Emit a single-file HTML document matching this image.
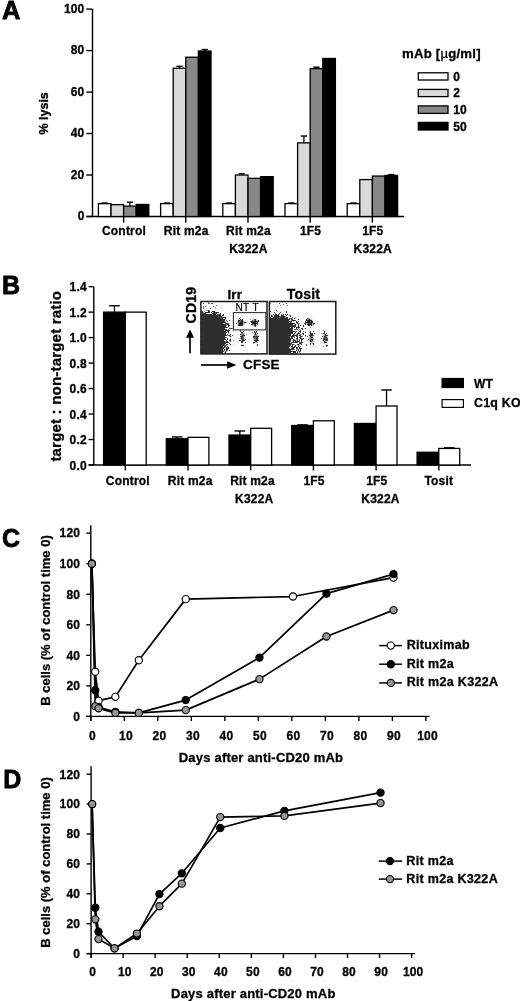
<!DOCTYPE html>
<html><head><meta charset="utf-8"><style>
html,body{margin:0;padding:0;background:#fff;}
svg{display:block;}
text{stroke:#000;stroke-width:0.3px;letter-spacing:0.2px;}
#w{filter:grayscale(1) blur(0.35px);}
</style></head><body>
<div id="w"><svg width="520" height="1001" viewBox="0 0 520 1001" font-family="'Liberation Sans', sans-serif" font-weight="bold">
<text x="1.90" y="18.90" font-size="25.5" text-anchor="start" style="stroke-width:0.8px">A</text>
<line x1="92.50" y1="9.10" x2="92.50" y2="216.50" stroke="#000" stroke-width="1.4"/>
<line x1="86.30" y1="216.50" x2="92.50" y2="216.50" stroke="#000" stroke-width="1.4"/>
<text x="84.50" y="220.20" font-size="12" text-anchor="end" >0</text>
<line x1="86.30" y1="175.02" x2="92.50" y2="175.02" stroke="#000" stroke-width="1.4"/>
<text x="84.50" y="178.72" font-size="12" text-anchor="end" >20</text>
<line x1="86.30" y1="133.54" x2="92.50" y2="133.54" stroke="#000" stroke-width="1.4"/>
<text x="84.50" y="137.24" font-size="12" text-anchor="end" >40</text>
<line x1="86.30" y1="92.06" x2="92.50" y2="92.06" stroke="#000" stroke-width="1.4"/>
<text x="84.50" y="95.76" font-size="12" text-anchor="end" >60</text>
<line x1="86.30" y1="50.58" x2="92.50" y2="50.58" stroke="#000" stroke-width="1.4"/>
<text x="84.50" y="54.28" font-size="12" text-anchor="end" >80</text>
<line x1="86.30" y1="9.10" x2="92.50" y2="9.10" stroke="#000" stroke-width="1.4"/>
<text x="84.50" y="12.80" font-size="12" text-anchor="end" >100</text>
<line x1="86.30" y1="216.50" x2="404.20" y2="216.50" stroke="#000" stroke-width="1.4"/>
<line x1="104.70" y1="203.02" x2="104.70" y2="203.64" stroke="#000" stroke-width="1.3"/>
<line x1="101.60" y1="203.02" x2="107.80" y2="203.02" stroke="#000" stroke-width="1.4"/>
<rect x="98.40" y="203.64" width="12.60" height="12.86" fill="#ffffff" stroke="#000" stroke-width="1.3"/>
<rect x="111.00" y="204.68" width="12.60" height="11.82" fill="#d9d9d9" stroke="#000" stroke-width="1.3"/>
<line x1="129.90" y1="202.19" x2="129.90" y2="206.13" stroke="#000" stroke-width="1.3"/>
<line x1="126.80" y1="202.19" x2="133.00" y2="202.19" stroke="#000" stroke-width="1.4"/>
<rect x="123.60" y="206.13" width="12.60" height="10.37" fill="#888888" stroke="#000" stroke-width="1.3"/>
<rect x="136.20" y="204.47" width="12.60" height="12.03" fill="#000000" stroke="#000" stroke-width="1.3"/>
<line x1="123.60" y1="216.50" x2="123.60" y2="222.70" stroke="#000" stroke-width="1.4"/>
<text x="124.00" y="234.80" font-size="12" text-anchor="middle" >Control</text>
<line x1="166.90" y1="203.02" x2="166.90" y2="203.64" stroke="#000" stroke-width="1.3"/>
<line x1="163.80" y1="203.02" x2="170.00" y2="203.02" stroke="#000" stroke-width="1.4"/>
<rect x="160.60" y="203.64" width="12.60" height="12.86" fill="#ffffff" stroke="#000" stroke-width="1.3"/>
<line x1="179.50" y1="66.34" x2="179.50" y2="68.21" stroke="#000" stroke-width="1.3"/>
<line x1="176.40" y1="66.34" x2="182.60" y2="66.34" stroke="#000" stroke-width="1.4"/>
<rect x="173.20" y="68.21" width="12.60" height="148.29" fill="#d9d9d9" stroke="#000" stroke-width="1.3"/>
<rect x="185.80" y="57.22" width="12.60" height="159.28" fill="#888888" stroke="#000" stroke-width="1.3"/>
<line x1="204.70" y1="49.54" x2="204.70" y2="50.99" stroke="#000" stroke-width="1.3"/>
<line x1="201.60" y1="49.54" x2="207.80" y2="49.54" stroke="#000" stroke-width="1.4"/>
<rect x="198.40" y="50.99" width="12.60" height="165.51" fill="#000000" stroke="#000" stroke-width="1.3"/>
<line x1="185.80" y1="216.50" x2="185.80" y2="222.70" stroke="#000" stroke-width="1.4"/>
<text x="186.20" y="234.80" font-size="12" text-anchor="middle" >Rit m2a</text>
<line x1="229.10" y1="203.02" x2="229.10" y2="203.64" stroke="#000" stroke-width="1.3"/>
<line x1="226.00" y1="203.02" x2="232.20" y2="203.02" stroke="#000" stroke-width="1.4"/>
<rect x="222.80" y="203.64" width="12.60" height="12.86" fill="#ffffff" stroke="#000" stroke-width="1.3"/>
<line x1="241.70" y1="173.78" x2="241.70" y2="175.02" stroke="#000" stroke-width="1.3"/>
<line x1="238.60" y1="173.78" x2="244.80" y2="173.78" stroke="#000" stroke-width="1.4"/>
<rect x="235.40" y="175.02" width="12.60" height="41.48" fill="#d9d9d9" stroke="#000" stroke-width="1.3"/>
<rect x="248.00" y="178.34" width="12.60" height="38.16" fill="#888888" stroke="#000" stroke-width="1.3"/>
<rect x="260.60" y="176.68" width="12.60" height="39.82" fill="#000000" stroke="#000" stroke-width="1.3"/>
<line x1="248.00" y1="216.50" x2="248.00" y2="222.70" stroke="#000" stroke-width="1.4"/>
<text x="248.40" y="234.80" font-size="12" text-anchor="middle" >Rit m2a</text>
<text x="248.40" y="252.80" font-size="12" text-anchor="middle" >K322A</text>
<line x1="291.30" y1="203.02" x2="291.30" y2="203.64" stroke="#000" stroke-width="1.3"/>
<line x1="288.20" y1="203.02" x2="294.40" y2="203.02" stroke="#000" stroke-width="1.4"/>
<rect x="285.00" y="203.64" width="12.60" height="12.86" fill="#ffffff" stroke="#000" stroke-width="1.3"/>
<line x1="303.90" y1="136.03" x2="303.90" y2="142.87" stroke="#000" stroke-width="1.3"/>
<line x1="300.80" y1="136.03" x2="307.00" y2="136.03" stroke="#000" stroke-width="1.4"/>
<rect x="297.60" y="142.87" width="12.60" height="73.63" fill="#d9d9d9" stroke="#000" stroke-width="1.3"/>
<line x1="316.50" y1="67.17" x2="316.50" y2="68.62" stroke="#000" stroke-width="1.3"/>
<line x1="313.40" y1="67.17" x2="319.60" y2="67.17" stroke="#000" stroke-width="1.4"/>
<rect x="310.20" y="68.62" width="12.60" height="147.88" fill="#888888" stroke="#000" stroke-width="1.3"/>
<rect x="322.80" y="58.46" width="12.60" height="158.04" fill="#000000" stroke="#000" stroke-width="1.3"/>
<line x1="310.20" y1="216.50" x2="310.20" y2="222.70" stroke="#000" stroke-width="1.4"/>
<text x="310.60" y="234.80" font-size="12" text-anchor="middle" >1F5</text>
<line x1="353.50" y1="203.02" x2="353.50" y2="203.64" stroke="#000" stroke-width="1.3"/>
<line x1="350.40" y1="203.02" x2="356.60" y2="203.02" stroke="#000" stroke-width="1.4"/>
<rect x="347.20" y="203.64" width="12.60" height="12.86" fill="#ffffff" stroke="#000" stroke-width="1.3"/>
<rect x="359.80" y="179.58" width="12.60" height="36.92" fill="#d9d9d9" stroke="#000" stroke-width="1.3"/>
<rect x="372.40" y="176.06" width="12.60" height="40.44" fill="#888888" stroke="#000" stroke-width="1.3"/>
<line x1="391.30" y1="174.61" x2="391.30" y2="175.43" stroke="#000" stroke-width="1.3"/>
<line x1="388.20" y1="174.61" x2="394.40" y2="174.61" stroke="#000" stroke-width="1.4"/>
<rect x="385.00" y="175.43" width="12.60" height="41.07" fill="#000000" stroke="#000" stroke-width="1.3"/>
<line x1="372.40" y1="216.50" x2="372.40" y2="222.70" stroke="#000" stroke-width="1.4"/>
<text x="372.80" y="234.80" font-size="12" text-anchor="middle" >1F5</text>
<text x="372.80" y="252.80" font-size="12" text-anchor="middle" >K322A</text>
<text x="0.00" y="0.00" font-size="12.5" text-anchor="middle" style="letter-spacing:0" transform="translate(47.7,113.4) rotate(-90)">% lysis</text>
<text x="441.40" y="58.30" font-size="13.2" text-anchor="middle" >mAb [<tspan font-weight="normal">µ</tspan>g/ml]</text>
<rect x="418.30" y="72.80" width="29.70" height="7.20" fill="#ffffff" stroke="#000" stroke-width="1.3"/>
<text x="453.20" y="80.70" font-size="12" text-anchor="start" >0</text>
<rect x="418.30" y="89.40" width="29.70" height="7.20" fill="#d9d9d9" stroke="#000" stroke-width="1.3"/>
<text x="453.20" y="97.30" font-size="12" text-anchor="start" >2</text>
<rect x="418.30" y="105.90" width="29.70" height="7.50" fill="#888888" stroke="#000" stroke-width="1.3"/>
<text x="453.20" y="113.95" font-size="12" text-anchor="start" >10</text>
<rect x="418.30" y="122.40" width="29.70" height="7.60" fill="#000000" stroke="#000" stroke-width="1.3"/>
<text x="453.20" y="130.50" font-size="12" text-anchor="start" >50</text>
<text x="2.00" y="294.30" font-size="25" text-anchor="start" style="stroke-width:0.8px">B</text>
<line x1="93.80" y1="286.64" x2="93.80" y2="465.00" stroke="#000" stroke-width="1.4"/>
<line x1="88.60" y1="465.00" x2="93.80" y2="465.00" stroke="#000" stroke-width="1.4"/>
<text x="86.90" y="469.50" font-size="12" text-anchor="end" >0.0</text>
<line x1="88.60" y1="439.52" x2="93.80" y2="439.52" stroke="#000" stroke-width="1.4"/>
<text x="86.90" y="444.02" font-size="12" text-anchor="end" >0.2</text>
<line x1="88.60" y1="414.04" x2="93.80" y2="414.04" stroke="#000" stroke-width="1.4"/>
<text x="86.90" y="418.54" font-size="12" text-anchor="end" >0.4</text>
<line x1="88.60" y1="388.56" x2="93.80" y2="388.56" stroke="#000" stroke-width="1.4"/>
<text x="86.90" y="393.06" font-size="12" text-anchor="end" >0.6</text>
<line x1="88.60" y1="363.08" x2="93.80" y2="363.08" stroke="#000" stroke-width="1.4"/>
<text x="86.90" y="367.58" font-size="12" text-anchor="end" >0.8</text>
<line x1="88.60" y1="337.60" x2="93.80" y2="337.60" stroke="#000" stroke-width="1.4"/>
<text x="86.90" y="342.10" font-size="12" text-anchor="end" >1.0</text>
<line x1="88.60" y1="312.12" x2="93.80" y2="312.12" stroke="#000" stroke-width="1.4"/>
<text x="86.90" y="316.62" font-size="12" text-anchor="end" >1.2</text>
<line x1="88.60" y1="286.64" x2="93.80" y2="286.64" stroke="#000" stroke-width="1.4"/>
<text x="86.90" y="291.14" font-size="12" text-anchor="end" >1.4</text>
<line x1="88.60" y1="465.00" x2="471.00" y2="465.00" stroke="#000" stroke-width="1.4"/>
<line x1="114.45" y1="305.75" x2="114.45" y2="312.12" stroke="#000" stroke-width="1.3"/>
<line x1="109.15" y1="305.75" x2="119.75" y2="305.75" stroke="#000" stroke-width="1.4"/>
<rect x="103.60" y="312.12" width="21.70" height="152.88" fill="#000" stroke="#000" stroke-width="1.3"/>
<rect x="125.30" y="312.12" width="20.90" height="152.88" fill="#fff" stroke="#000" stroke-width="1.3"/>
<line x1="125.30" y1="465.00" x2="125.30" y2="470.50" stroke="#000" stroke-width="1.4"/>
<text x="127.80" y="485.00" font-size="12" text-anchor="middle" >Control</text>
<line x1="177.15" y1="436.97" x2="177.15" y2="438.76" stroke="#000" stroke-width="1.3"/>
<line x1="171.85" y1="436.97" x2="182.45" y2="436.97" stroke="#000" stroke-width="1.4"/>
<rect x="166.30" y="438.76" width="21.70" height="26.24" fill="#000" stroke="#000" stroke-width="1.3"/>
<rect x="188.00" y="437.35" width="20.90" height="27.65" fill="#fff" stroke="#000" stroke-width="1.3"/>
<line x1="188.00" y1="465.00" x2="188.00" y2="470.50" stroke="#000" stroke-width="1.4"/>
<text x="190.20" y="485.00" font-size="12" text-anchor="middle" >Rit m2a</text>
<line x1="239.85" y1="430.98" x2="239.85" y2="435.06" stroke="#000" stroke-width="1.3"/>
<line x1="234.55" y1="430.98" x2="245.15" y2="430.98" stroke="#000" stroke-width="1.4"/>
<rect x="229.00" y="435.06" width="21.70" height="29.94" fill="#000" stroke="#000" stroke-width="1.3"/>
<rect x="250.70" y="428.31" width="20.90" height="36.69" fill="#fff" stroke="#000" stroke-width="1.3"/>
<line x1="250.70" y1="465.00" x2="250.70" y2="470.50" stroke="#000" stroke-width="1.4"/>
<text x="252.50" y="485.00" font-size="12" text-anchor="middle" >Rit m2a</text>
<text x="254.30" y="502.60" font-size="12" text-anchor="middle" >K322A</text>
<line x1="302.55" y1="424.87" x2="302.55" y2="425.51" stroke="#000" stroke-width="1.3"/>
<line x1="297.25" y1="424.87" x2="307.85" y2="424.87" stroke="#000" stroke-width="1.4"/>
<rect x="291.70" y="425.51" width="21.70" height="39.49" fill="#000" stroke="#000" stroke-width="1.3"/>
<rect x="313.40" y="420.79" width="20.90" height="44.21" fill="#fff" stroke="#000" stroke-width="1.3"/>
<line x1="313.40" y1="465.00" x2="313.40" y2="470.50" stroke="#000" stroke-width="1.4"/>
<text x="314.10" y="485.00" font-size="12" text-anchor="middle" >1F5</text>
<rect x="354.40" y="423.47" width="21.70" height="41.53" fill="#000" stroke="#000" stroke-width="1.3"/>
<line x1="386.55" y1="389.96" x2="386.55" y2="406.01" stroke="#000" stroke-width="1.3"/>
<line x1="381.25" y1="389.96" x2="391.85" y2="389.96" stroke="#000" stroke-width="1.4"/>
<rect x="376.10" y="406.01" width="20.90" height="58.99" fill="#fff" stroke="#000" stroke-width="1.3"/>
<line x1="376.10" y1="465.00" x2="376.10" y2="470.50" stroke="#000" stroke-width="1.4"/>
<text x="376.80" y="485.00" font-size="12" text-anchor="middle" >1F5</text>
<text x="380.50" y="502.60" font-size="12" text-anchor="middle" >K322A</text>
<rect x="417.10" y="452.26" width="21.70" height="12.74" fill="#000" stroke="#000" stroke-width="1.3"/>
<line x1="449.25" y1="447.80" x2="449.25" y2="448.44" stroke="#000" stroke-width="1.3"/>
<line x1="443.95" y1="447.80" x2="454.55" y2="447.80" stroke="#000" stroke-width="1.4"/>
<rect x="438.80" y="448.44" width="20.90" height="16.56" fill="#fff" stroke="#000" stroke-width="1.3"/>
<line x1="438.80" y1="465.00" x2="438.80" y2="470.50" stroke="#000" stroke-width="1.4"/>
<text x="438.80" y="485.00" font-size="12" text-anchor="middle" >Tosit</text>
<text x="0.00" y="0.00" font-size="15" text-anchor="middle" transform="translate(61,376.2) rotate(-90)">target : non-target ratio</text>
<rect x="442.10" y="378.50" width="21.30" height="9.00" fill="#000" stroke="#000" stroke-width="1.2"/>
<rect x="442.10" y="399.60" width="21.30" height="7.80" fill="#fff" stroke="#000" stroke-width="1.2"/>
<text x="474.10" y="387.50" font-size="12" text-anchor="start" >WT</text>
<text x="474.10" y="407.40" font-size="12.4" text-anchor="start" >C1q KO</text>
<defs>
<clipPath id="cIrr"><rect x="201.4" y="301.8" width="65.2" height="51.6"/></clipPath>
<clipPath id="cTos"><rect x="269.9" y="301.8" width="65.4" height="52"/></clipPath>
<filter id="dith" x="195" y="295" width="150" height="65" filterUnits="userSpaceOnUse" color-interpolation-filters="sRGB">
  <feGaussianBlur in="SourceAlpha" stdDeviation="1.1" result="b"/>
  <feTurbulence type="fractalNoise" baseFrequency="0.6" numOctaves="2" seed="9" result="n"/>
  <feColorMatrix in="n" type="matrix" values="0 0 0 0 0  0 0 0 0 0  0 0 0 0 0  2.56 0 0 0 -0.78" result="na"/>
  <feComposite in="b" in2="na" operator="arithmetic" k1="0" k2="1" k3="-1" k4="-0.08" result="d"/>
  <feComponentTransfer in="d" result="t"><feFuncA type="linear" slope="7" intercept="0"/></feComponentTransfer>
  <feFlood flood-color="#2e2e2e"/>
  <feComposite in2="t" operator="in"/>
  <feGaussianBlur stdDeviation="0.72"/>
</filter>
<filter id="bl6" x="-50%" y="-50%" width="200%" height="200%"><feGaussianBlur stdDeviation="0.9"/></filter>
<filter id="bl5" x="-10%" y="-10%" width="120%" height="120%"><feGaussianBlur stdDeviation="0.7"/></filter>
</defs>
<g clip-path="url(#cIrr)"><g filter="url(#dith)">
<path d="M199,300 H269 V356 H199 Z M233,300 V312 H267 V300 Z" fill-rule="evenodd" fill="#000" fill-opacity="0.05"/>
<path d="M199,300 L222,300 L222,314 L199,314 Z" fill="#000" fill-opacity="0.14"/>
<path d="M199,355 L199,311 Q214,309 223,313 Q233,320 234,331 Q234,346 230,355 Z" fill="#000" fill-opacity="0.22"/>
<path d="M199,355 L199,311.5 Q213,310 222,313.5 Q230,320 230.5,331 Q230.5,345 228,355 Z" fill="#000" fill-opacity="0.5"/>
<path d="M199,355 L199,313.4 Q207,312.4 214,312.6 Q220,313 223.3,317 Q226.4,322 226.6,330 Q226.4,341 224.4,348 L223.4,355 Z" fill="#000"/>
<ellipse cx="241" cy="322.4" rx="4.0" ry="3.7" fill="#000" fill-opacity="0.95"/>
<ellipse cx="254.6" cy="322.4" rx="4.0" ry="3.7" fill="#000" fill-opacity="0.95"/>
<ellipse cx="242.6" cy="337.5" rx="3.0" ry="8" fill="#000" fill-opacity="0.7"/>
<ellipse cx="255.8" cy="337.5" rx="3.0" ry="8" fill="#000" fill-opacity="0.7"/>
</g></g>
<g clip-path="url(#cTos)"><g filter="url(#dith)">
<rect x="267" y="300" width="70" height="56" fill="#000" fill-opacity="0.06"/>
<path d="M267,300 L289,300 L289,316 L267,316 Z" fill="#000" fill-opacity="0.14"/>
<path d="M267,355 L267,313 Q284,311 293,315 Q307,322 308,333 Q308,347 304,355 Z" fill="#000" fill-opacity="0.22"/>
<path d="M267,355 L267,314.5 Q282,313 291,316.5 Q302,322 303,333 Q303,346 299,355 Z" fill="#000" fill-opacity="0.55"/>
<path d="M267,355 L267,316.4 Q276,315.6 283,315.8 Q288.5,316.2 290.5,320 Q292,324 291.8,331 L291.2,345 L290,355 Z" fill="#000"/>
<ellipse cx="309.6" cy="322.4" rx="4.2" ry="3.9" fill="#000" fill-opacity="0.95"/>
<ellipse cx="311.4" cy="338.5" rx="3.0" ry="8" fill="#000" fill-opacity="0.7"/>
<ellipse cx="325.2" cy="338.5" rx="3.0" ry="8" fill="#000" fill-opacity="0.7"/>
</g></g>
<g fill="#2e2e2e" filter="url(#bl5)">
<path d="M199,355 L199,315.2 Q207,314.2 213.5,314.4 Q218.5,314.8 221.3,318.2 Q224.3,323 224.5,330 Q224.3,341 222.6,348 L221.6,355 Z" clip-path="url(#cIrr)"/>
<path d="M267,355 L267,318.2 Q276,317.4 282.5,317.6 Q287,318 288.6,321.2 Q290,325 289.8,331 L289.3,345 L288.2,355 Z" clip-path="url(#cTos)"/>
</g>
<g filter="url(#bl6)">
<ellipse cx="241" cy="322.4" rx="2.6" ry="2.5" fill="#1e1e1e"/>
<ellipse cx="254.6" cy="322.4" rx="2.6" ry="2.5" fill="#1e1e1e"/>
<ellipse cx="309.6" cy="322.4" rx="2.6" ry="2.5" fill="#1e1e1e"/>
<ellipse cx="242.6" cy="337.5" rx="1.4" ry="4.6" fill="#3a3a3a"/>
<ellipse cx="255.8" cy="337.5" rx="1.4" ry="4.6" fill="#3a3a3a"/>
<ellipse cx="311.4" cy="338.5" rx="1.4" ry="4.6" fill="#3a3a3a"/>
<ellipse cx="325.2" cy="338.5" rx="1.4" ry="4.6" fill="#3a3a3a"/>
</g>
<rect x="200.9" y="301.5" width="66.1" height="52.4" fill="none" stroke="#1a1a1a" stroke-width="1.5"/>
<rect x="269.4" y="301.5" width="66.4" height="52.6" fill="none" stroke="#1a1a1a" stroke-width="1.5"/>
<rect x="233.4" y="312.6" width="32.5" height="17.3" fill="none" stroke="#333" stroke-width="1.1"/>
<text x="227.4" y="298.6" font-size="13.5">Irr</text>
<text x="286.8" y="298.5" font-size="14">Tosit</text>
<text x="235.4" y="310.9" font-size="10" font-weight="normal" style="stroke-width:0.2px;letter-spacing:0.45px">NT T</text>
<text x="0" y="0" font-size="14" text-anchor="middle" transform="translate(195.6,305.1) rotate(-90)">CD19</text>
<text x="243" y="369" font-size="13.5">CFSE</text>
<line x1="190" y1="336" x2="190" y2="353.3" stroke="#000" stroke-width="1.7"/>
<path d="M190,329.6 L194,337.7 L186,337.7 Z" fill="#000"/>
<line x1="201.1" y1="365" x2="228" y2="365" stroke="#000" stroke-width="1.7"/>
<path d="M236.4,365 L227.1,361.2 L227.1,368.7 Z" fill="#000"/>
<text x="1.90" y="546.70" font-size="25" text-anchor="start" style="stroke-width:0.8px">C</text>
<line x1="90.80" y1="525.20" x2="90.80" y2="720.80" stroke="#000" stroke-width="1.4"/>
<line x1="86.30" y1="716.40" x2="90.80" y2="716.40" stroke="#000" stroke-width="1.4"/>
<text x="80.20" y="720.70" font-size="12" text-anchor="end" >0</text>
<line x1="86.30" y1="685.86" x2="90.80" y2="685.86" stroke="#000" stroke-width="1.4"/>
<text x="80.20" y="690.16" font-size="12" text-anchor="end" >20</text>
<line x1="86.30" y1="655.32" x2="90.80" y2="655.32" stroke="#000" stroke-width="1.4"/>
<text x="80.20" y="659.62" font-size="12" text-anchor="end" >40</text>
<line x1="86.30" y1="624.78" x2="90.80" y2="624.78" stroke="#000" stroke-width="1.4"/>
<text x="80.20" y="629.08" font-size="12" text-anchor="end" >60</text>
<line x1="86.30" y1="594.24" x2="90.80" y2="594.24" stroke="#000" stroke-width="1.4"/>
<text x="80.20" y="598.54" font-size="12" text-anchor="end" >80</text>
<line x1="86.30" y1="563.70" x2="90.80" y2="563.70" stroke="#000" stroke-width="1.4"/>
<text x="80.20" y="568.00" font-size="12" text-anchor="end" >100</text>
<line x1="86.30" y1="533.16" x2="90.80" y2="533.16" stroke="#000" stroke-width="1.4"/>
<text x="80.20" y="537.46" font-size="12" text-anchor="end" >120</text>
<line x1="86.30" y1="716.40" x2="429.60" y2="716.40" stroke="#000" stroke-width="1.4"/>
<line x1="90.80" y1="716.40" x2="90.80" y2="721.00" stroke="#000" stroke-width="1.4"/>
<text x="92.40" y="740.20" font-size="12" text-anchor="middle" >0</text>
<line x1="124.31" y1="716.40" x2="124.31" y2="721.00" stroke="#000" stroke-width="1.4"/>
<text x="125.91" y="740.20" font-size="12" text-anchor="middle" >10</text>
<line x1="157.82" y1="716.40" x2="157.82" y2="721.00" stroke="#000" stroke-width="1.4"/>
<text x="159.42" y="740.20" font-size="12" text-anchor="middle" >20</text>
<line x1="191.33" y1="716.40" x2="191.33" y2="721.00" stroke="#000" stroke-width="1.4"/>
<text x="192.93" y="740.20" font-size="12" text-anchor="middle" >30</text>
<line x1="224.84" y1="716.40" x2="224.84" y2="721.00" stroke="#000" stroke-width="1.4"/>
<text x="226.44" y="740.20" font-size="12" text-anchor="middle" >40</text>
<line x1="258.35" y1="716.40" x2="258.35" y2="721.00" stroke="#000" stroke-width="1.4"/>
<text x="259.95" y="740.20" font-size="12" text-anchor="middle" >50</text>
<line x1="291.86" y1="716.40" x2="291.86" y2="721.00" stroke="#000" stroke-width="1.4"/>
<text x="293.46" y="740.20" font-size="12" text-anchor="middle" >60</text>
<line x1="325.37" y1="716.40" x2="325.37" y2="721.00" stroke="#000" stroke-width="1.4"/>
<text x="326.97" y="740.20" font-size="12" text-anchor="middle" >70</text>
<line x1="358.88" y1="716.40" x2="358.88" y2="721.00" stroke="#000" stroke-width="1.4"/>
<text x="360.48" y="740.20" font-size="12" text-anchor="middle" >80</text>
<line x1="392.39" y1="716.40" x2="392.39" y2="721.00" stroke="#000" stroke-width="1.4"/>
<text x="393.99" y="740.20" font-size="12" text-anchor="middle" >90</text>
<line x1="425.90" y1="716.40" x2="425.90" y2="721.00" stroke="#000" stroke-width="1.4"/>
<text x="427.50" y="740.20" font-size="12" text-anchor="middle" >100</text>
<text x="261.00" y="762.00" font-size="13" text-anchor="middle" >Days after anti-CD20 mAb</text>
<text x="0.00" y="0.00" font-size="13" text-anchor="middle" style="letter-spacing:0" transform="translate(49.6,620.5) rotate(-90)">B cells (% of control time 0)</text>
<polyline points="91.90,563.70 95.25,671.66 98.60,700.67 115.36,696.85 138.81,660.21 185.73,599.13 292.96,596.53 393.49,577.60" fill="none" stroke="#000" stroke-width="1.7" stroke-linejoin="round"/>
<polyline points="91.90,563.70 95.25,690.29 98.60,707.24 115.36,711.82 138.81,712.89 185.73,700.06 259.45,657.61 326.47,593.63 393.49,574.08" fill="none" stroke="#000" stroke-width="1.7" stroke-linejoin="round"/>
<polyline points="91.90,563.70 95.25,706.32 98.60,708.31 115.36,712.89 138.81,712.89 185.73,710.14 259.45,679.14 326.47,636.54 393.49,610.12" fill="none" stroke="#000" stroke-width="1.7" stroke-linejoin="round"/>
<circle cx="91.90" cy="563.70" r="3.6" fill="#fff" stroke="#000" stroke-width="1.15"/>
<circle cx="95.25" cy="671.66" r="3.6" fill="#fff" stroke="#000" stroke-width="1.15"/>
<circle cx="98.60" cy="700.67" r="3.6" fill="#fff" stroke="#000" stroke-width="1.15"/>
<circle cx="115.36" cy="696.85" r="3.6" fill="#fff" stroke="#000" stroke-width="1.15"/>
<circle cx="138.81" cy="660.21" r="3.6" fill="#fff" stroke="#000" stroke-width="1.15"/>
<circle cx="185.73" cy="599.13" r="3.6" fill="#fff" stroke="#000" stroke-width="1.15"/>
<circle cx="292.96" cy="596.53" r="3.6" fill="#fff" stroke="#000" stroke-width="1.15"/>
<circle cx="393.49" cy="577.60" r="3.6" fill="#fff" stroke="#000" stroke-width="1.15"/>
<circle cx="91.90" cy="563.70" r="3.6" fill="#000" stroke="#000" stroke-width="1.15"/>
<circle cx="95.25" cy="690.29" r="3.6" fill="#000" stroke="#000" stroke-width="1.15"/>
<circle cx="98.60" cy="707.24" r="3.6" fill="#000" stroke="#000" stroke-width="1.15"/>
<circle cx="115.36" cy="711.82" r="3.6" fill="#000" stroke="#000" stroke-width="1.15"/>
<circle cx="138.81" cy="712.89" r="3.6" fill="#000" stroke="#000" stroke-width="1.15"/>
<circle cx="185.73" cy="700.06" r="3.6" fill="#000" stroke="#000" stroke-width="1.15"/>
<circle cx="259.45" cy="657.61" r="3.6" fill="#000" stroke="#000" stroke-width="1.15"/>
<circle cx="326.47" cy="593.63" r="3.6" fill="#000" stroke="#000" stroke-width="1.15"/>
<circle cx="393.49" cy="574.08" r="3.6" fill="#000" stroke="#000" stroke-width="1.15"/>
<circle cx="91.90" cy="563.70" r="3.6" fill="#969696" stroke="#000" stroke-width="1.15"/>
<circle cx="95.25" cy="706.32" r="3.6" fill="#969696" stroke="#000" stroke-width="1.15"/>
<circle cx="98.60" cy="708.31" r="3.6" fill="#969696" stroke="#000" stroke-width="1.15"/>
<circle cx="115.36" cy="712.89" r="3.6" fill="#969696" stroke="#000" stroke-width="1.15"/>
<circle cx="138.81" cy="712.89" r="3.6" fill="#969696" stroke="#000" stroke-width="1.15"/>
<circle cx="185.73" cy="710.14" r="3.6" fill="#969696" stroke="#000" stroke-width="1.15"/>
<circle cx="259.45" cy="679.14" r="3.6" fill="#969696" stroke="#000" stroke-width="1.15"/>
<circle cx="326.47" cy="636.54" r="3.6" fill="#969696" stroke="#000" stroke-width="1.15"/>
<circle cx="393.49" cy="610.12" r="3.6" fill="#969696" stroke="#000" stroke-width="1.15"/>
<line x1="379.20" y1="645.60" x2="401.90" y2="645.60" stroke="#000" stroke-width="1.5"/>
<circle cx="390.8" cy="645.6" r="3.6" fill="#fff" stroke="#000" stroke-width="1.15"/>
<text x="406.70" y="649.00" font-size="12.5" text-anchor="start" style="letter-spacing:0.32px">Rituximab</text>
<line x1="379.20" y1="664.20" x2="401.90" y2="664.20" stroke="#000" stroke-width="1.5"/>
<circle cx="390.8" cy="664.2" r="3.6" fill="#000" stroke="#000" stroke-width="1.15"/>
<text x="406.70" y="667.60" font-size="12.5" text-anchor="start" style="letter-spacing:0.32px">Rit m2a</text>
<line x1="379.20" y1="682.90" x2="401.90" y2="682.90" stroke="#000" stroke-width="1.5"/>
<circle cx="390.8" cy="682.9" r="3.6" fill="#969696" stroke="#000" stroke-width="1.15"/>
<text x="406.70" y="686.30" font-size="12.5" text-anchor="start" style="letter-spacing:0.32px">Rit m2a K322A</text>
<text x="3.20" y="787.50" font-size="25" text-anchor="start" style="stroke-width:0.8px">D</text>
<line x1="91.10" y1="766.25" x2="91.10" y2="958.00" stroke="#000" stroke-width="1.4"/>
<line x1="86.60" y1="953.60" x2="91.10" y2="953.60" stroke="#000" stroke-width="1.4"/>
<text x="80.20" y="957.90" font-size="12" text-anchor="end" >0</text>
<line x1="86.60" y1="923.70" x2="91.10" y2="923.70" stroke="#000" stroke-width="1.4"/>
<text x="80.20" y="928.00" font-size="12" text-anchor="end" >20</text>
<line x1="86.60" y1="893.80" x2="91.10" y2="893.80" stroke="#000" stroke-width="1.4"/>
<text x="80.20" y="898.10" font-size="12" text-anchor="end" >40</text>
<line x1="86.60" y1="863.90" x2="91.10" y2="863.90" stroke="#000" stroke-width="1.4"/>
<text x="80.20" y="868.20" font-size="12" text-anchor="end" >60</text>
<line x1="86.60" y1="834.00" x2="91.10" y2="834.00" stroke="#000" stroke-width="1.4"/>
<text x="80.20" y="838.30" font-size="12" text-anchor="end" >80</text>
<line x1="86.60" y1="804.10" x2="91.10" y2="804.10" stroke="#000" stroke-width="1.4"/>
<text x="80.20" y="808.40" font-size="12" text-anchor="end" >100</text>
<line x1="86.60" y1="774.20" x2="91.10" y2="774.20" stroke="#000" stroke-width="1.4"/>
<text x="80.20" y="778.50" font-size="12" text-anchor="end" >120</text>
<line x1="86.60" y1="953.60" x2="415.10" y2="953.60" stroke="#000" stroke-width="1.4"/>
<line x1="91.10" y1="953.60" x2="91.10" y2="958.00" stroke="#000" stroke-width="1.4"/>
<text x="92.70" y="976.40" font-size="12" text-anchor="middle" >0</text>
<line x1="123.15" y1="953.60" x2="123.15" y2="958.00" stroke="#000" stroke-width="1.4"/>
<text x="124.75" y="976.40" font-size="12" text-anchor="middle" >10</text>
<line x1="155.20" y1="953.60" x2="155.20" y2="958.00" stroke="#000" stroke-width="1.4"/>
<text x="156.80" y="976.40" font-size="12" text-anchor="middle" >20</text>
<line x1="187.25" y1="953.60" x2="187.25" y2="958.00" stroke="#000" stroke-width="1.4"/>
<text x="188.85" y="976.40" font-size="12" text-anchor="middle" >30</text>
<line x1="219.30" y1="953.60" x2="219.30" y2="958.00" stroke="#000" stroke-width="1.4"/>
<text x="220.90" y="976.40" font-size="12" text-anchor="middle" >40</text>
<line x1="251.35" y1="953.60" x2="251.35" y2="958.00" stroke="#000" stroke-width="1.4"/>
<text x="252.95" y="976.40" font-size="12" text-anchor="middle" >50</text>
<line x1="283.40" y1="953.60" x2="283.40" y2="958.00" stroke="#000" stroke-width="1.4"/>
<text x="285.00" y="976.40" font-size="12" text-anchor="middle" >60</text>
<line x1="315.45" y1="953.60" x2="315.45" y2="958.00" stroke="#000" stroke-width="1.4"/>
<text x="317.05" y="976.40" font-size="12" text-anchor="middle" >70</text>
<line x1="347.50" y1="953.60" x2="347.50" y2="958.00" stroke="#000" stroke-width="1.4"/>
<text x="349.10" y="976.40" font-size="12" text-anchor="middle" >80</text>
<line x1="379.55" y1="953.60" x2="379.55" y2="958.00" stroke="#000" stroke-width="1.4"/>
<text x="381.15" y="976.40" font-size="12" text-anchor="middle" >90</text>
<line x1="411.60" y1="953.60" x2="411.60" y2="958.00" stroke="#000" stroke-width="1.4"/>
<text x="413.20" y="976.40" font-size="12" text-anchor="middle" >100</text>
<text x="253.30" y="997.60" font-size="13" text-anchor="middle" >Days after anti-CD20 mAb</text>
<text x="0.00" y="0.00" font-size="13" text-anchor="middle" style="letter-spacing:0" transform="translate(49.6,862.5) rotate(-90)">B cells (% of control time 0)</text>
<polyline points="92.10,804.10 95.30,907.70 98.51,931.77 114.53,948.37 136.97,935.96 159.41,894.10 181.84,873.32 220.30,828.02 284.40,810.83 380.55,792.59" fill="none" stroke="#000" stroke-width="1.7" stroke-linejoin="round"/>
<polyline points="92.10,804.10 95.30,919.36 98.51,939.10 114.53,948.37 136.97,933.57 159.41,906.21 181.84,883.63 220.30,817.11 284.40,815.91 380.55,803.05" fill="none" stroke="#000" stroke-width="1.7" stroke-linejoin="round"/>
<circle cx="92.10" cy="804.10" r="3.6" fill="#000" stroke="#000" stroke-width="1.15"/>
<circle cx="95.30" cy="907.70" r="3.6" fill="#000" stroke="#000" stroke-width="1.15"/>
<circle cx="98.51" cy="931.77" r="3.6" fill="#000" stroke="#000" stroke-width="1.15"/>
<circle cx="114.53" cy="948.37" r="3.6" fill="#000" stroke="#000" stroke-width="1.15"/>
<circle cx="136.97" cy="935.96" r="3.6" fill="#000" stroke="#000" stroke-width="1.15"/>
<circle cx="159.41" cy="894.10" r="3.6" fill="#000" stroke="#000" stroke-width="1.15"/>
<circle cx="181.84" cy="873.32" r="3.6" fill="#000" stroke="#000" stroke-width="1.15"/>
<circle cx="220.30" cy="828.02" r="3.6" fill="#000" stroke="#000" stroke-width="1.15"/>
<circle cx="284.40" cy="810.83" r="3.6" fill="#000" stroke="#000" stroke-width="1.15"/>
<circle cx="380.55" cy="792.59" r="3.6" fill="#000" stroke="#000" stroke-width="1.15"/>
<circle cx="92.10" cy="804.10" r="3.6" fill="#969696" stroke="#000" stroke-width="1.15"/>
<circle cx="95.30" cy="919.36" r="3.6" fill="#969696" stroke="#000" stroke-width="1.15"/>
<circle cx="98.51" cy="939.10" r="3.6" fill="#969696" stroke="#000" stroke-width="1.15"/>
<circle cx="114.53" cy="948.37" r="3.6" fill="#969696" stroke="#000" stroke-width="1.15"/>
<circle cx="136.97" cy="933.57" r="3.6" fill="#969696" stroke="#000" stroke-width="1.15"/>
<circle cx="159.41" cy="906.21" r="3.6" fill="#969696" stroke="#000" stroke-width="1.15"/>
<circle cx="181.84" cy="883.63" r="3.6" fill="#969696" stroke="#000" stroke-width="1.15"/>
<circle cx="220.30" cy="817.11" r="3.6" fill="#969696" stroke="#000" stroke-width="1.15"/>
<circle cx="284.40" cy="815.91" r="3.6" fill="#969696" stroke="#000" stroke-width="1.15"/>
<circle cx="380.55" cy="803.05" r="3.6" fill="#969696" stroke="#000" stroke-width="1.15"/>
<line x1="378.80" y1="861.10" x2="402.20" y2="861.10" stroke="#000" stroke-width="1.5"/>
<circle cx="390" cy="861.1" r="3.6" fill="#000" stroke="#000" stroke-width="1.15"/>
<text x="406.30" y="864.90" font-size="12.5" text-anchor="start" style="letter-spacing:0.32px">Rit m2a</text>
<line x1="378.80" y1="879.10" x2="402.20" y2="879.10" stroke="#000" stroke-width="1.5"/>
<circle cx="390" cy="879.1" r="3.6" fill="#969696" stroke="#000" stroke-width="1.15"/>
<text x="406.30" y="882.90" font-size="12.5" text-anchor="start" style="letter-spacing:0.32px">Rit m2a K322A</text>
</svg></div>
</body></html>
